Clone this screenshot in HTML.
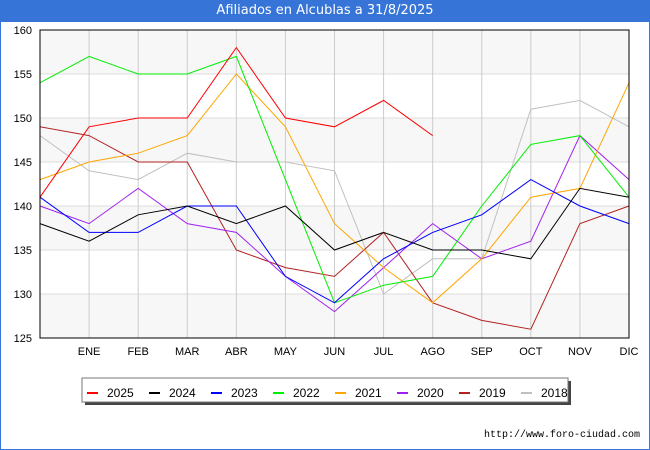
<!DOCTYPE html>
<html><head><meta charset="utf-8"><style>
body{margin:0;width:650px;height:450px;background:#fff;font-family:"Liberation Sans","DejaVu Sans",sans-serif;overflow:hidden}
#t{position:absolute;left:0;top:0;width:650px;height:22px;background:#3674d8;color:#fff;font-size:13px;text-align:center;line-height:22px;font-family:"DejaVu Sans",sans-serif}
#frame{position:absolute;left:0;top:22px;width:648px;height:427px;border:1px solid #3674d8;border-top:none}
</style></head><body>
<div id="t">Afiliados en Alcublas a 31/8/2025</div>
<div id="frame"></div>
<svg id="c" width="650" height="450" style="position:absolute;left:0;top:0"></svg>
<script>
const months=["","ENE","FEB","MAR","ABR","MAY","JUN","JUL","AGO","SEP","OCT","NOV","DIC"];
const yTicks=[125,130,135,140,145,150,155,160];
const years=["2025","2024","2023","2022","2021","2020","2019","2018"];
const colors=["#ff0000","#000000","#0000ff","#00ee00","#ffa500","#a020f0","#b22222","#c0c0c0"];
const s2025=[141,149,150,150,158,150,149,152,148];
const s2024=[138,136,139,140,138,140,135,137,135,135,134,142,141];
const s2023=[141,137,137,140,140,132,129,134,137,139,143,140,138];
const s2022=[154,157,155,155,157,143,129,131,132,140,147,148,141];
const s2021=[143,145,146,148,155,149,138,133,129,134,141,142,154];
const s2020=[140,138,142,138,137,132,128,133,138,134,136,148,143];
const s2019=[149,148,145,145,135,133,132,137,129,127,126,138,140];
const s2018=[148,144,143,146,145,145,144,130,134,134,151,152,149];
const series=[s2025,s2024,s2023,s2022,s2021,s2020,s2019,s2018];
const L=40,R=629,T=30,B=338,NS="http://www.w3.org/2000/svg";
const x=i=>L+i*(R-L)/12, y=v=>B-(v-125)*(B-T)/35;
const svg=document.getElementById('c');
function mk(tag,a,txt){const e=document.createElementNS(NS,tag);for(const k in a)e.setAttribute(k,a[k]);if(txt!==undefined)e.textContent=txt;svg.appendChild(e);return e;}
for(let i=0;i<yTicks.length-1;i++){if(i%2==0){const b=mk('rect',{x:L,y:y(yTicks[i+1]),width:R-L,height:y(yTicks[i])-y(yTicks[i+1]),fill:'#f7f7f7'});

}}
yTicks.forEach(v=>{const g=mk('line',{x1:L,x2:R,y1:y(v),y2:y(v),stroke:'#dddddd'});


const t=mk('text',{x:L-8,y:y(v)+4,'text-anchor':'end','font-size':11,fill:'#000'},v);

});
months.forEach((m,i)=>{if(i>0){const g=mk('line',{x1:x(i),x2:x(i),y1:T,y2:B,stroke:'#cccccc'});


const t=mk('text',{x:x(i),y:B+17,'text-anchor':'middle','font-size':11,fill:'#000'},m);

}});
series.slice().reverse().forEach((s,ri)=>{const k=series.length-1-ri;
const p=mk('polyline',{points:s.map((v,i)=>x(i)+','+y(v)).join(' '),fill:'none',stroke:colors[k],'stroke-width':1});

});
const fr=mk('rect',{x:L,y:T,width:R-L,height:B-T,fill:'none',stroke:'#000'});


const sh=mk('rect',{x:85,y:381,width:486,height:24,fill:'#444'});


const lg=mk('rect',{x:82,y:378,width:486,height:24,fill:'#fff',stroke:'#777'});


years.forEach((yr,i)=>{const lx=87+i*62;
const sw=mk('line',{x1:lx,x2:lx+11,y1:393,y2:393,stroke:colors[i],'stroke-width':2});


const t=mk('text',{x:lx+20,y:397,'font-size':12,fill:'#000'},yr);

});
const u=mk('text',{x:640,y:437,'text-anchor':'end','font-size':10,fill:'#000','font-family':'Liberation Mono, monospace'},'http://www.foro-ciudad.com');


</script>
</body></html>
